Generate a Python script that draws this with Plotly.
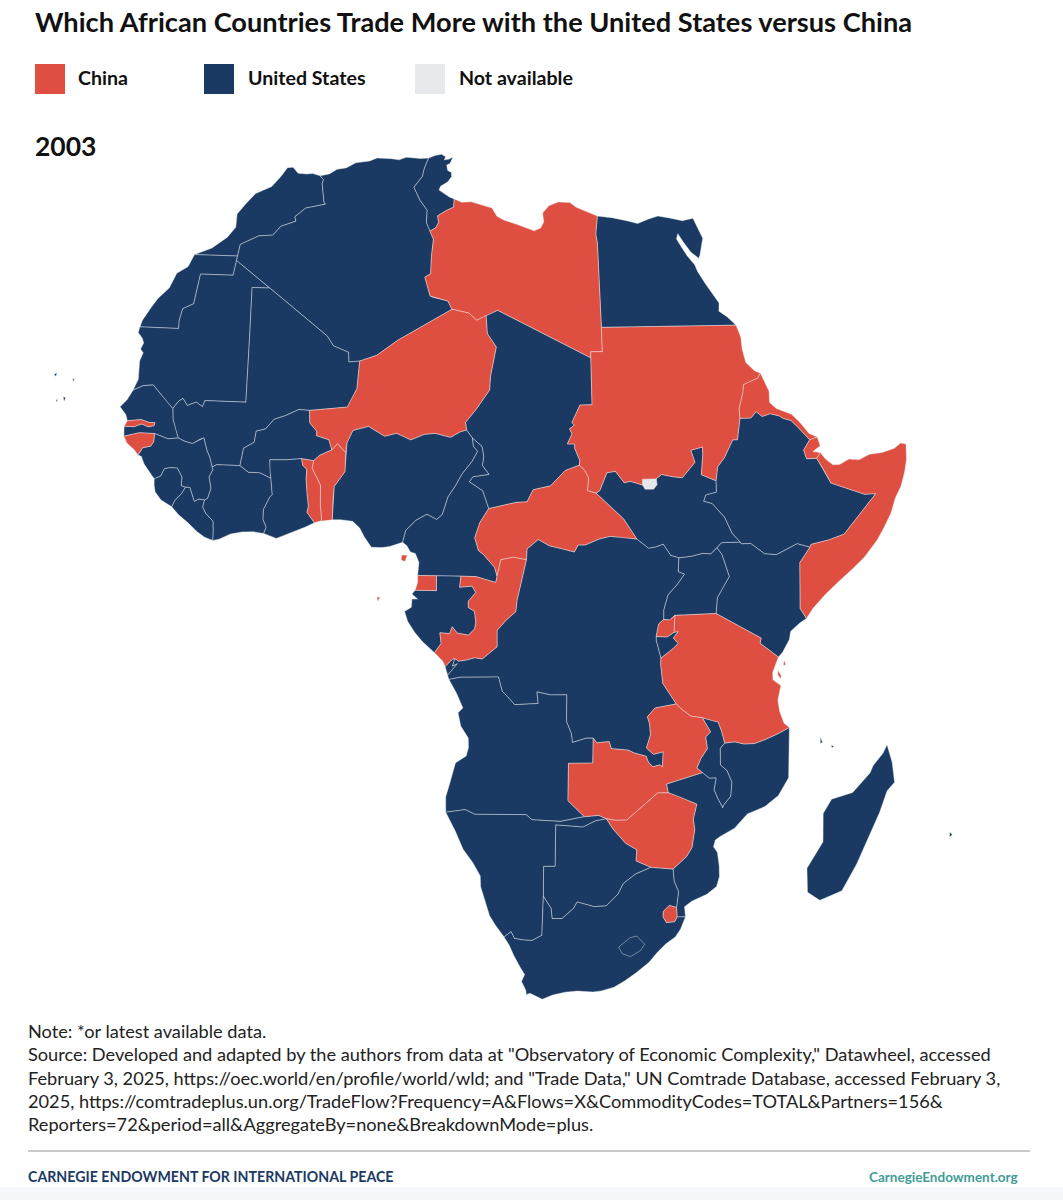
import numpy as np
import plotly.graph_objects as go

# No map files offline, so the outlines are kept here as lon/lat chains.
# Coast pieces and land borders are shared between neighbours.
c_mar = [(-13.15,27.67),(-12.5,27.9),(-11.5,28.3),(-10.2,29.3),(-9.6,30.2),(-9.85,31.4),(-9.2,32.4),(-8.5,33.3),(-7.0,34.0),(-6.3,35.0),(-5.9,35.8),(-5.3,35.85),(-4.6,35.3),(-3.7,35.25),(-3.0,35.3),(-2.2,35.1)]
c_dza = [(-2.2,35.1),(-1.3,35.3),(-0.6,35.75),(0.3,35.9),(1.2,36.4),(2.6,36.6),(3.3,36.9),(4.8,36.85),(5.6,36.75),(6.3,37.0),(7.2,36.95),(7.8,36.9),(8.6,36.95)]
c_tun = [(8.6,36.95),(9.2,37.2),(9.85,37.33),(10.3,37.1),(10.2,36.8),(10.6,36.85),(11.05,37.05),(10.8,36.45),(10.5,36.3),(10.65,35.8),(11.05,35.6),(11.1,35.2),(10.75,34.7),(10.1,34.3),(10.0,33.95),(10.5,33.65),(11.1,33.3),(11.55,33.15)]
c_lby = [(11.55,33.15),(12.3,32.85),(13.2,32.9),(14.2,32.65),(15.2,32.35),(15.7,31.6),(16.4,31.25),(17.5,30.9),(18.4,30.6),(19.2,30.3),(19.8,30.55),(20.1,31.1),(20.0,31.9),(20.6,32.55),(21.5,32.9),(22.6,32.85),(23.2,32.4),(24.0,32.05),(25.15,31.6)]
c_egy = [(25.15,31.6),(26.5,31.45),(27.9,31.15),(28.9,30.9),(30.0,31.3),(30.9,31.55),(32.0,31.35),(33.2,31.1),(34.25,31.3),(34.9,29.5),(34.4,28.0),(34.25,27.75),(33.6,28.3),(33.0,29.2),(32.6,29.95),(32.4,29.5),(32.7,28.9),(33.2,28.0),(33.8,27.2),(34.0,26.6),(34.6,25.5),(35.3,24.3),(35.6,23.9),(35.5,23.2),(36.2,22.7),(36.9,22.0)]
c_sdn = [(36.9,22.0),(37.2,21.0),(37.2,20.0),(37.4,18.9),(38.1,18.2),(38.6,18.0)]
c_eri = [(38.6,18.0),(39.2,16.5),(39.15,15.6),(39.7,15.1),(40.2,14.9),(41.0,14.6),(41.7,13.9),(42.4,13.0),(43.1,12.7)]
c_dji = [(43.1,12.7),(43.3,12.0),(42.6,11.55),(43.25,11.45)]
c_som = [(43.25,11.45),(43.7,10.9),(44.3,10.45),(44.9,10.45),(45.8,10.85),(46.7,10.75),(47.7,11.15),(48.9,11.25),(50.1,11.55),(50.75,11.95),(51.25,11.85),(51.15,10.6),(50.85,9.6),(50.4,8.5),(49.8,7.6),(49.3,6.4),(48.6,5.3),(47.9,4.3),(46.7,3.0),(45.6,2.1),(44.3,1.1),(43.2,0.2),(42.1,-0.9),(41.55,-1.67)]
c_ken = [(41.55,-1.67),(41.0,-2.0),(40.2,-2.65),(40.1,-3.3),(39.55,-4.3),(39.2,-4.68)]
c_tza = [(39.2,-4.68),(38.75,-5.9),(38.8,-6.5),(39.5,-7.0),(39.3,-8.2),(39.5,-9.1),(39.95,-10.1),(40.44,-10.47)]
c_moz = [(40.44,-10.47),(40.55,-12.6),(40.75,-14.7),(40.0,-16.2),(38.9,-17.1),(37.4,-17.7),(36.4,-18.9),(35.2,-19.6),(34.8,-19.9),(34.7,-20.5),(35.1,-21.0),(35.4,-22.2),(35.55,-23.2),(35.4,-24.1),(34.6,-24.8),(33.3,-25.4),(32.7,-25.9),(32.9,-26.85)]
c_zaf = [(32.9,-26.85),(32.6,-28.0),(32.2,-28.75),(31.4,-29.4),(30.7,-30.2),(30.0,-31.2),(28.9,-32.2),(27.9,-33.0),(26.9,-33.65),(25.7,-34.0),(24.9,-34.1),(23.4,-34.0),(22.2,-34.1),(21.0,-34.4),(20.0,-34.83),(19.3,-34.5),(18.8,-34.2),(18.45,-34.35),(18.4,-33.9),(18.0,-33.0),(18.3,-32.3),(17.9,-31.6),(17.3,-30.4),(16.9,-29.4),(16.45,-28.62)]
c_nam = [(16.45,-28.62),(15.7,-27.5),(15.2,-26.6),(14.9,-25.5),(14.5,-23.9),(14.5,-22.9),(13.9,-21.7),(13.1,-20.5),(12.5,-18.9),(11.75,-17.25)]
c_ago = [(11.75,-17.25),(11.8,-16.4),(11.8,-15.9),(12.1,-15.0),(12.4,-13.9),(12.7,-13.0),(13.6,-12.4),(13.8,-11.7),(13.8,-10.9),(13.2,-9.9),(13.0,-8.8),(13.4,-8.4),(12.9,-7.2),(12.3,-6.1)]
c_cod = [(12.3,-6.1),(12.2,-5.75)]
c_cab = [(12.2,-5.75),(12.0,-5.05)]
c_cog = [(12.0,-5.05),(11.8,-4.6),(11.15,-3.95)]
c_gab = [(11.15,-3.95),(10.2,-3.1),(9.6,-2.4),(9.0,-1.5),(8.75,-0.7),(9.3,-0.35),(9.35,0.3),(9.8,0.3),(9.35,0.7),(9.6,1.0)]
c_gnq = [(9.6,1.0),(9.8,1.6),(9.8,2.17)]
c_cmr = [(9.8,2.17),(9.9,3.2),(9.6,3.9),(9.2,4.0),(8.9,4.5),(8.55,4.75)]
c_nga = [(8.55,4.75),(7.5,4.4),(6.9,4.3),(6.0,4.3),(5.4,5.1),(5.0,5.8),(4.4,6.3),(3.4,6.4),(2.7,6.37)]
c_ben = [(2.7,6.37),(1.63,6.22)]
c_tgo = [(1.63,6.22),(1.2,6.1)]
c_gha = [(1.2,6.1),(0.5,5.75),(-0.5,5.35),(-1.1,5.1),(-2.0,4.75),(-3.1,5.1)]
c_civ = [(-3.1,5.1),(-4.0,5.2),(-5.0,5.15),(-6.0,4.95),(-7.0,4.5),(-7.55,4.37)]
c_lbr = [(-7.55,4.37),(-8.3,4.6),(-9.0,5.0),(-9.9,5.7),(-10.8,6.3),(-11.45,6.9)]
c_sle = [(-11.45,6.9),(-12.5,7.4),(-13.1,8.0),(-13.25,8.5),(-13.3,9.05)]
c_gin = [(-13.3,9.05),(-13.7,9.5),(-14.4,10.2),(-14.75,10.8),(-15.1,10.9)]
c_gnb = [(-15.1,10.9),(-15.5,11.3),(-16.3,11.8),(-16.7,12.35)]
c_sen_s = [(-16.7,12.35),(-16.8,13.15)]
c_gmb = [(-16.8,13.15),(-16.55,13.6)]
c_sen_n = [(-16.55,13.6),(-16.8,14.1),(-17.5,14.7),(-16.9,15.3),(-16.45,16.1)]
c_mrt = [(-16.45,16.1),(-16.1,17.0),(-16.3,18.5),(-16.1,19.2),(-16.45,19.5),(-16.25,20.0),(-16.5,20.4),(-17.05,20.85),(-17.0,21.33)]
c_esh = [(-17.0,21.33),(-16.9,21.9),(-16.3,23.0),(-15.8,23.8),(-14.9,24.7),(-14.5,26.0),(-13.5,26.6),(-13.15,27.67)]

b_mar_dza = [(-2.2,35.1),(-1.75,34.75),(-1.8,34.4),(-1.2,32.7),(-1.0,32.5),(-2.9,32.1),(-3.8,31.3),(-3.6,30.9),(-5.0,30.4),(-5.6,29.6),(-7.0,29.5),(-8.67,28.7),(-8.67,27.67)]
b_esh_mar = [(-13.15,27.67),(-8.67,27.67)]
b_esh_dza = [(-8.67,27.67),(-8.67,27.29)]
b_esh_mrt = [(-8.67,27.29),(-8.67,26.0),(-12.0,26.0),(-12.0,23.45),(-13.0,23.0),(-13.1,22.0),(-13.0,21.33),(-17.0,21.33)]
b_dza_mrt = [(-8.67,27.29),(-4.83,25.0)]
b_mrt_mli = [(-4.83,25.0),(-6.55,25.0),(-5.98,21.0),(-5.5,15.5),(-7.0,15.5),(-9.3,15.5),(-9.45,15.0),(-10.1,15.35),(-10.9,15.05),(-11.4,15.6),(-11.75,15.4),(-12.25,14.75)]
b_mrt_sen = [(-16.45,16.1),(-15.5,16.5),(-14.5,16.6),(-13.9,16.1),(-13.3,15.6),(-12.7,15.1),(-12.25,14.75)]
b_mli_sen = [(-12.25,14.75),(-12.1,13.9),(-11.7,13.0),(-11.4,12.4)]
b_gin_sen = [(-13.7,12.67),(-12.35,12.3),(-11.4,12.4)]
b_sen_gnb = [(-16.7,12.35),(-15.2,12.68),(-13.7,12.67)]
b_gnb_gin = [(-13.7,12.67),(-13.7,12.0),(-13.95,11.65),(-14.7,11.5),(-15.0,11.0),(-15.1,10.9)]
b_gmb = [(-16.8,13.15),(-15.8,13.15),(-15.1,13.4),(-14.4,13.2),(-13.85,13.3),(-13.8,13.55),(-14.4,13.55),(-15.2,13.75),(-16.55,13.6)]
b_gin_mli = [(-11.4,12.4),(-10.7,12.15),(-10.0,12.0),(-9.3,12.4),(-9.0,12.5),(-8.6,11.5),(-8.3,11.0),(-8.0,10.2)]
b_gin_sle = [(-13.3,9.05),(-12.7,9.3),(-12.4,9.9),(-11.9,10.0),(-11.2,10.0),(-10.7,9.3),(-10.7,8.6),(-10.3,8.5)]
b_sle_lbr = [(-11.45,6.9),(-11.2,7.4),(-10.6,8.0),(-10.3,8.5)]
b_gin_lbr = [(-10.3,8.5),(-9.9,8.5),(-9.4,7.4),(-9.0,7.6),(-8.47,7.55)]
b_gin_civ = [(-8.47,7.55),(-8.2,7.7),(-7.95,8.5),(-8.2,9.4),(-7.9,10.0),(-8.0,10.2)]
b_lbr_civ = [(-7.55,4.37),(-7.55,5.1),(-7.6,5.9),(-8.3,6.5),(-8.6,7.0),(-8.47,7.55)]
b_mli_civ = [(-8.0,10.2),(-7.6,10.4),(-6.9,10.4),(-6.2,10.4),(-5.5,10.4)]
b_civ_bfa = [(-5.5,10.4),(-4.7,9.9),(-3.7,9.9),(-2.7,9.5)]
b_civ_gha = [(-3.1,5.1),(-2.9,5.6),(-3.2,6.2),(-3.2,7.0),(-2.7,8.0),(-2.5,8.2),(-2.7,9.5)]
b_gha_bfa = [(-2.7,9.5),(-2.8,10.0),(-2.9,10.95),(-1.5,11.0),(-0.15,11.13)]
b_gha_tgo = [(-0.15,11.13),(0.0,10.6),(0.35,10.3),(0.35,9.5),(0.5,8.3),(0.65,7.4),(0.55,6.9),(1.2,6.1)]
b_tgo_bfa = [(-0.15,11.13),(0.9,11.0)]
b_tgo_ben = [(0.9,11.0),(0.8,10.4),(1.4,9.4),(1.6,9.05),(1.65,7.5),(1.8,6.3),(1.63,6.22)]
b_ben_bfa = [(0.9,11.0),(1.4,11.45),(2.4,11.9)]
b_ben_ner = [(2.4,11.9),(2.85,12.4),(3.6,11.7)]
b_ben_nga = [(3.6,11.7),(3.6,10.2),(2.75,9.0),(2.7,7.8),(2.7,6.37)]
b_ner_bfa = [(2.4,11.9),(2.1,12.7),(1.0,13.0),(1.0,13.35),(0.35,14.0),(0.24,15.0)]
b_mli_bfa = [(0.24,15.0),(-0.7,15.05),(-1.9,14.5),(-2.8,14.2),(-3.5,13.4),(-4.3,13.2),(-4.4,12.3),(-5.3,11.8),(-5.5,10.4)]
b_mli_ner = [(0.24,15.0),(3.5,15.35),(3.6,15.6),(4.2,16.85),(4.25,19.1)]
b_mli_dza = [(-4.83,25.0),(1.15,21.1),(1.8,20.3),(3.2,19.8),(3.3,19.0),(4.25,19.1)]
b_ner_dza = [(4.25,19.1),(5.7,19.6),(7.4,20.85),(12.0,23.5)]
b_tun_dza = [(8.6,36.95),(8.3,36.0),(8.2,35.2),(7.5,34.2),(8.25,33.0),(9.05,32.1),(9.1,31.0),(9.5,30.23)]
b_tun_lby = [(9.5,30.23),(10.0,30.5),(10.25,31.0),(10.1,31.6),(10.9,32.1),(11.55,32.4),(11.55,33.15)]
b_dza_lby = [(9.5,30.23),(9.9,29.5),(9.85,28.0),(9.9,26.5),(9.4,26.2),(10.0,24.6),(10.25,24.5),(11.6,24.2),(12.0,23.5)]
b_ner_lby = [(12.0,23.5),(13.5,23.2),(14.2,22.6),(15.0,23.0)]
b_lby_tcd = [(15.0,23.0),(16.0,23.45),(24.0,19.5)]
b_ner_tcd = [(15.0,23.0),(15.15,21.5),(15.95,20.4),(15.5,18.0),(15.45,16.9),(14.4,15.4),(13.5,14.3),(13.6,13.7)]
b_ner_nga = [(3.6,11.7),(3.65,12.5),(4.1,13.5),(5.4,13.85),(6.8,13.1),(7.8,13.35),(9.0,12.85),(10.1,13.3),(11.0,13.4),(12.3,13.1),(13.1,13.55),(13.6,13.7)]
b_nga_tcd = [(13.6,13.7),(14.1,13.05)]
b_tcd_cmr = [(14.1,13.05),(14.9,12.4),(15.05,11.6),(14.95,10.9),(15.5,10.2),(14.2,10.0),(13.9,9.6),(15.0,8.9),(15.5,7.5)]
b_nga_cmr = [(14.1,13.05),(14.2,12.4),(14.55,12.0),(14.1,11.2),(13.3,10.2),(12.8,9.3),(12.2,8.4),(11.75,7.0),(11.3,6.6),(10.5,7.0),(9.6,6.5),(8.8,5.7),(8.55,4.75)]
b_tcd_caf = [(15.5,7.5),(16.6,7.75),(17.7,8.0),(18.6,8.05),(19.1,9.0),(20.5,9.3),(21.7,10.5),(22.86,10.92)]
b_tcd_sdn = [(24.0,19.5),(24.0,15.7),(23.0,15.7),(22.3,14.3),(22.5,14.1),(22.1,13.8),(22.3,13.4),(21.9,12.6),(22.5,12.6),(22.5,12.25),(22.9,11.3),(22.86,10.92)]
b_lby_sdn = [(24.0,19.5),(24.0,20.0),(25.0,20.0),(25.0,22.0)]
b_lby_egy = [(25.0,22.0),(25.0,29.2),(24.9,30.0),(25.15,31.6)]
b_egy_sdn = [(25.0,22.0),(36.9,22.0)]
b_sdn_eri = [(38.6,18.0),(38.3,17.6),(37.5,17.3),(37.0,17.1),(36.9,16.5),(36.45,15.2),(36.45,14.4)]
b_eri_eth = [(36.45,14.4),(37.4,14.4),(37.9,14.9),(38.4,14.5),(39.1,14.7),(39.9,14.5),(40.2,14.3),(40.9,14.1),(41.6,13.4),(42.4,12.5)]
b_eri_dji = [(43.1,12.7),(42.4,12.5)]
b_dji_eth = [(42.4,12.5),(41.8,11.7),(42.0,11.0),(42.9,11.0)]
b_dji_som = [(42.9,11.0),(43.25,11.45)]
b_eth_som = [(42.9,11.0),(43.7,9.6),(44.0,9.0),(46.95,8.0),(48.0,8.0),(44.95,4.9),(43.6,4.5),(42.0,4.2),(41.9,3.98)]
b_ken_som = [(41.55,-1.67),(41.0,-0.85),(41.0,2.8),(41.9,3.98)]
b_ken_eth = [(41.9,3.98),(40.8,4.3),(39.9,3.9),(39.0,3.5),(38.0,3.6),(36.85,4.45),(36.05,4.45),(35.95,4.6)]
b_ken_ssd = [(35.95,4.6),(34.4,4.6),(34.0,4.2)]
b_eth_ssd = [(35.95,4.6),(35.3,5.3),(34.7,6.6),(33.7,7.7),(33.0,7.9),(33.2,8.4),(34.1,8.6),(34.1,9.5)]
b_eth_sdn = [(34.1,9.5),(34.3,10.6),(34.9,11.3),(35.7,12.7),(36.1,12.7),(36.45,14.4)]
b_sdn_ssd = [(34.1,9.5),(32.9,10.0),(33.1,11.6),(33.1,12.2),(32.1,11.95),(32.4,11.0),(31.3,9.8),(30.5,9.9),(29.6,10.1),(28.9,9.6),(28.0,9.3),(27.0,9.6),(26.5,9.5),(25.8,10.4),(25.1,10.3),(24.5,8.9),(24.2,8.7)]
b_sdn_caf = [(22.86,10.92),(23.3,10.5),(23.6,9.9),(23.5,8.9),(24.2,8.7)]
b_caf_ssd = [(24.2,8.7),(25.1,7.85),(26.4,6.65),(27.45,5.05)]
b_caf_cod = [(27.45,5.05),(26.4,5.2),(25.3,5.3),(24.4,5.1),(23.3,4.65),(22.7,4.65),(22.4,4.1),(21.65,4.3),(20.4,4.6),(19.5,5.1),(18.6,4.35),(18.55,3.5)]
b_caf_cog = [(18.55,3.5),(17.5,3.7),(16.5,3.5),(16.2,2.2)]
b_caf_cmr = [(15.5,7.5),(14.8,6.4),(14.4,5.2),(14.7,4.2),(15.1,3.9),(16.0,2.9),(16.2,2.2)]
b_cmr_cog = [(16.2,2.2),(16.1,1.7),(14.5,2.15),(13.3,2.17)]
b_cmr_gab = [(13.3,2.17),(11.33,2.17)]
b_cmr_gnq = [(11.33,2.17),(9.8,2.17)]
b_gnq_gab = [(9.6,1.0),(11.33,1.0),(11.33,2.17)]
b_gab_cog = [(13.3,2.17),(13.2,1.3),(14.2,1.4),(14.5,0.9),(13.9,0.2),(13.9,-0.3),(14.4,-0.6),(14.5,-1.5),(14.4,-2.0),(13.9,-2.5),(13.0,-2.35),(12.6,-1.85),(12.4,-2.4),(11.6,-2.35),(11.7,-3.2),(11.15,-3.95)]
b_cog_cod = [(18.55,3.5),(18.2,2.0),(17.8,0.3),(17.7,-0.6),(16.9,-1.3),(16.2,-2.1),(16.2,-3.4),(15.5,-4.0),(15.0,-4.4),(14.4,-4.3),(13.7,-4.5),(13.1,-4.6),(12.8,-4.4)]
b_cog_cab = [(12.0,-5.05),(12.6,-4.45),(12.8,-4.4)]
b_cod_cab = [(12.8,-4.4),(12.6,-5.0),(13.0,-4.8),(12.2,-5.75)]
b_cod_ago = [(12.3,-6.1),(13.2,-5.9),(16.3,-5.85),(16.6,-7.0),(16.9,-7.3),(17.6,-8.1),(19.5,-8.0),(19.4,-7.05),(20.5,-7.3),(21.8,-7.3),(21.8,-9.5),(22.2,-10.5),(22.3,-11.25),(23.4,-10.9),(24.0,-10.9)]
b_ago_zmb = [(24.0,-10.9),(24.0,-13.0),(22.0,-13.0),(22.0,-16.2),(23.4,-17.6)]
b_ago_nam = [(11.75,-17.25),(13.4,-17.0),(14.2,-17.4),(18.5,-17.4),(19.0,-17.85),(21.4,-18.0),(23.4,-17.6)]
b_nam_zmb = [(23.4,-17.6),(24.6,-17.5),(25.26,-17.8)]
b_nam_bwa = [(25.26,-17.8),(24.4,-17.95),(23.3,-18.5),(21.0,-18.3),(20.99,-22.0),(20.0,-22.0),(20.0,-24.75)]
b_nam_zaf = [(16.45,-28.62),(17.1,-28.1),(17.4,-28.75),(18.2,-28.9),(19.0,-28.95),(19.9,-28.45),(20.0,-24.75)]
b_bwa_zaf = [(20.0,-24.75),(20.7,-25.9),(20.8,-26.85),(21.7,-26.85),(22.7,-25.9),(23.0,-25.3),(24.5,-25.75),(25.6,-25.7),(26.6,-24.6),(27.0,-23.65),(28.0,-22.8),(29.35,-22.2)]
b_bwa_zwe = [(25.26,-17.8),(25.85,-18.7),(27.0,-20.0),(28.0,-20.6),(28.0,-21.6),(29.35,-22.2)]
b_zmb_zwe = [(25.26,-17.8),(26.0,-17.95),(27.0,-17.95),(28.5,-16.6),(29.5,-15.65),(30.4,-15.65)]
b_zwe_moz = [(30.4,-15.65),(31.3,-16.0),(32.9,-16.7),(32.7,-18.0),(32.9,-18.9),(32.8,-20.5),(32.4,-21.3),(31.3,-22.4)]
b_zwe_zaf = [(29.35,-22.2),(31.3,-22.4)]
b_zaf_moz = [(31.3,-22.4),(31.5,-23.5),(32.0,-24.5),(31.97,-25.95)]
b_swz_moz = [(31.97,-25.95),(32.13,-26.85)]
b_zaf_moz2 = [(32.13,-26.85),(32.9,-26.85)]
b_swz_zaf = [(31.97,-25.95),(31.3,-25.75),(30.8,-26.3),(30.85,-26.85),(31.2,-27.35),(31.95,-27.3),(32.13,-26.85)]
b_zmb_moz = [(30.4,-15.65),(30.2,-14.9),(33.2,-14.0)]
b_zmb_mwi = [(33.2,-14.0),(32.7,-13.6),(33.0,-12.8),(33.5,-12.0),(33.3,-11.0),(33.7,-10.6),(32.95,-9.4)]
b_zmb_tza = [(32.95,-9.4),(32.0,-9.25),(31.2,-8.65),(30.75,-8.2)]
b_zmb_cod = [(24.0,-10.9),(24.3,-11.3),(25.3,-11.2),(25.5,-11.8),(26.9,-11.95),(27.4,-12.2),(28.4,-12.5),(28.6,-13.0),(29.0,-13.4),(29.6,-13.25),(29.8,-13.45),(29.8,-12.15),(29.0,-12.35),(28.4,-11.8),(28.7,-10.7),(28.6,-9.8),(28.4,-9.2),(29.0,-8.5),(30.75,-8.2)]
b_cod_tza = [(30.75,-8.2),(29.6,-6.5),(29.4,-5.0),(29.4,-4.45)]
b_cod_bdi = [(29.4,-4.45),(29.0,-3.0),(29.0,-2.7)]
b_bdi_tza = [(29.4,-4.45),(30.4,-3.7),(30.8,-3.3),(30.4,-2.85),(30.8,-2.35),(30.45,-2.4)]
b_rwa_bdi = [(29.0,-2.7),(29.9,-2.75),(30.45,-2.4)]
b_rwa_tza = [(30.45,-2.4),(30.5,-1.65),(30.5,-1.05)]
b_rwa_uga = [(30.5,-1.05),(30.1,-1.4),(29.6,-1.35)]
b_rwa_cod = [(29.6,-1.35),(29.2,-1.7),(29.0,-2.7)]
b_cod_uga = [(29.6,-1.35),(29.6,-0.6),(29.95,0.6),(30.7,1.4),(31.3,2.2),(30.8,2.4),(30.85,3.5)]
b_uga_ssd = [(30.85,3.5),(31.9,3.6),(32.8,3.8),(33.5,3.75),(34.0,4.2)]
b_uga_ken = [(34.0,4.2),(34.4,3.7),(35.0,1.9),(34.5,1.1),(34.0,0.25),(33.9,-1.0)]
b_uga_tza = [(30.5,-1.05),(33.9,-1.0)]
b_ken_tza = [(33.9,-1.0),(37.7,-3.1),(37.6,-3.5),(39.2,-4.68)]
b_tza_moz = [(40.44,-10.47),(39.5,-10.95),(38.4,-11.4),(37.5,-11.7),(36.6,-11.7),(35.8,-11.5),(34.95,-11.57)]
b_tza_mwi = [(34.95,-11.57),(34.6,-10.5),(34.3,-9.8),(33.9,-9.7),(32.95,-9.4)]
b_mwi_moz = [(34.95,-11.57),(34.6,-12.0),(34.7,-13.4),(35.3,-13.9),(35.8,-14.9),(35.8,-16.1),(35.2,-16.9),(35.2,-17.1),(34.7,-16.3),(34.3,-15.5),(34.4,-14.5),(33.8,-14.5),(33.2,-14.0)]
b_ssd_cod = [(27.45,5.05),(28.4,4.3),(29.0,4.4),(29.6,4.6),(30.2,3.7),(30.85,3.5)]

lesotho = [(27.0,-29.65),(28.0,-28.75),(28.6,-28.6),(29.4,-29.4),(29.1,-30.0),(28.2,-30.6),(27.4,-30.3),(27.0,-29.65)]
abyei = [(28.0,9.75),(29.15,9.75),(29.2,9.3),(28.9,8.95),(28.2,8.95),(28.0,9.3)]
madagascar = [(49.5,-12.3),(50.2,-13.8),(50.7,-15.5),(50.1,-16.2),(49.7,-18.05),(48.4,-22.5),(47.5,-24.9),(45.5,-25.7),(44.1,-24.9),(43.6,-22.7),(44.7,-20.4),(44.3,-17.9),(44.9,-16.7),(46.8,-16.2),(48.2,-14.6),(48.4,-14.0),(49.2,-13.0)]
bioko = [(8.5,3.75),(8.95,3.75),(8.75,3.25),(8.45,3.35)]
sao_tome = [(6.5,0.4),(6.75,0.35),(6.55,0.05)]
zanzibar = [(39.2,-5.75),(39.5,-6.2),(39.45,-6.45),(39.2,-6.1)]
pemba = [(39.7,-4.95),(39.85,-5.3),(39.65,-5.4)]
grande_comore = [(43.25,-11.4),(43.5,-11.85),(43.3,-11.9)]
anjouan = [(44.3,-12.1),(44.55,-12.2),(44.4,-12.35)]
mauritius = [(57.4,-20.05),(57.75,-20.3),(57.5,-20.5)]
cape_verde_a = [(-25.3,17.05),(-25.0,17.2),(-25.0,16.9)]
cape_verde_b = [(-23.05,16.85),(-22.85,16.7),(-23.0,16.55)]
cape_verde_c = [(-23.75,15.3),(-23.45,15.2),(-23.55,14.9)]
cape_verde_d = [(-24.5,15.0),(-24.3,15.0),(-24.35,14.8)]


def r(chain):
    return chain[::-1]


def ring(*chains):
    pts = []
    for c in chains:
        pts += c
    return pts


outlines = {
    "Morocco": ring(c_mar, b_mar_dza, r(b_esh_mar)),
    "Western Sahara": ring(c_esh, b_esh_mar, b_esh_dza, b_esh_mrt),
    "Mauritania": ring(c_mrt, r(b_esh_mrt), b_dza_mrt, b_mrt_mli, r(b_mrt_sen)),
    "Algeria": ring(c_dza, b_tun_dza, b_dza_lby, r(b_ner_dza), r(b_mli_dza), r(b_dza_mrt), r(b_esh_dza), r(b_mar_dza)),
    "Tunisia": ring(c_tun, r(b_tun_lby), r(b_tun_dza)),
    "Libya": ring(c_lby, r(b_lby_egy), r(b_lby_sdn), r(b_lby_tcd), r(b_ner_lby), r(b_dza_lby), b_tun_lby),
    "Egypt": ring(c_egy, r(b_egy_sdn), b_lby_egy),
    "Sudan": ring(c_sdn, b_sdn_eri, r(b_eth_sdn), b_sdn_ssd, r(b_sdn_caf), r(b_tcd_sdn), b_lby_sdn, b_egy_sdn),
    "Eritrea": ring(c_eri, b_eri_dji, r(b_eri_eth), r(b_sdn_eri)),
    "Djibouti": ring(c_dji, r(b_dji_som), r(b_dji_eth), r(b_eri_dji)),
    "Somalia": ring(c_som, b_ken_som, r(b_eth_som), b_dji_som),
    "Ethiopia": ring(b_eri_eth, b_dji_eth, b_eth_som, b_ken_eth, b_eth_ssd, b_eth_sdn),
    "Kenya": ring(c_ken, r(b_ken_tza), r(b_uga_ken), r(b_ken_ssd), r(b_ken_eth), r(b_ken_som)),
    "Tanzania": ring(c_tza, b_tza_moz, b_tza_mwi, b_zmb_tza, b_cod_tza, b_bdi_tza, b_rwa_tza, b_uga_tza, b_ken_tza),
    "Uganda": ring(b_uga_tza, r(b_uga_ken), r(b_uga_ssd), r(b_cod_uga), r(b_rwa_uga)),
    "Rwanda": ring(b_rwa_uga, b_rwa_cod, b_rwa_bdi, b_rwa_tza),
    "Burundi": ring(b_rwa_bdi, r(b_bdi_tza), b_cod_bdi),
    "South Sudan": ring(r(b_sdn_ssd), r(b_eth_ssd), b_ken_ssd, r(b_uga_ssd), r(b_ssd_cod), r(b_caf_ssd)),
    "Central African Republic": ring(b_caf_ssd, b_caf_cod, b_caf_cog, r(b_caf_cmr), b_tcd_caf, b_sdn_caf),
    "Chad": ring(b_lby_tcd, b_tcd_sdn, r(b_tcd_caf), r(b_tcd_cmr), r(b_nga_tcd), r(b_ner_tcd)),
    "Niger": ring(b_ner_dza, b_ner_lby, b_ner_tcd, r(b_ner_nga), r(b_ben_ner), b_ner_bfa, b_mli_ner),
    "Mali": ring(b_mli_dza, r(b_mli_ner), b_mli_bfa, r(b_mli_civ), r(b_gin_mli), r(b_mli_sen), r(b_mrt_mli)),
    "Senegal": ring(c_sen_s, b_gmb, c_sen_n, b_mrt_sen, b_mli_sen, r(b_gin_sen), r(b_sen_gnb)),
    "Gambia": ring(b_gmb, r(c_gmb)),
    "Guinea-Bissau": ring(c_gnb, b_sen_gnb, b_gnb_gin),
    "Guinea": ring(c_gin, r(b_gnb_gin), b_gin_sen, b_gin_mli, r(b_gin_civ), r(b_gin_lbr), r(b_gin_sle)),
    "Sierra Leone": ring(c_sle, b_gin_sle, r(b_sle_lbr)),
    "Liberia": ring(c_lbr, b_sle_lbr, b_gin_lbr, r(b_lbr_civ)),
    "Côte d'Ivoire": ring(c_civ, b_lbr_civ, b_gin_civ, b_mli_civ, b_civ_bfa, r(b_civ_gha)),
    "Burkina Faso": ring(r(b_mli_bfa), r(b_ner_bfa), r(b_ben_bfa), r(b_tgo_bfa), r(b_gha_bfa), r(b_civ_bfa)),
    "Ghana": ring(c_gha, b_civ_gha, b_gha_bfa, b_gha_tgo),
    "Togo": ring(c_tgo, r(b_gha_tgo), b_tgo_bfa, b_tgo_ben),
    "Benin": ring(c_ben, r(b_tgo_ben), b_ben_bfa, b_ben_ner, b_ben_nga),
    "Nigeria": ring(c_nga, r(b_ben_nga), b_ner_nga, b_nga_tcd, b_nga_cmr),
    "Cameroon": ring(c_cmr, r(b_nga_cmr), b_tcd_cmr, b_caf_cmr, b_cmr_cog, b_cmr_gab, b_cmr_gnq),
    "Equatorial Guinea": ring(c_gnq, r(b_cmr_gnq), r(b_gnq_gab)),
    "Gabon": ring(c_gab, b_gnq_gab, r(b_cmr_gab), b_gab_cog),
    "Congo": ring(c_cog, r(b_gab_cog), r(b_cmr_cog), r(b_caf_cog), b_cog_cod, r(b_cog_cab)),
    "Cabinda": ring(b_cog_cab, b_cod_cab, c_cab),
    "DR Congo": ring(r(b_caf_cod), b_ssd_cod, r(b_cod_uga), b_rwa_cod, r(b_cod_bdi), r(b_cod_tza), r(b_zmb_cod), r(b_cod_ago), c_cod, r(b_cod_cab), r(b_cog_cod)),
    "Angola": ring(c_ago, b_cod_ago, b_ago_zmb, r(b_ago_nam)),
    "Zambia": ring(r(b_ago_zmb), b_zmb_cod, r(b_zmb_tza), r(b_zmb_mwi), r(b_zmb_moz), r(b_zmb_zwe), r(b_nam_zmb)),
    "Malawi": ring(r(b_tza_mwi), b_mwi_moz, b_zmb_mwi),
    "Mozambique": ring(c_moz, r(b_zaf_moz2), r(b_swz_moz), r(b_zaf_moz), r(b_zwe_moz), b_zmb_moz, r(b_mwi_moz), r(b_tza_moz)),
    "Zimbabwe": ring(b_zmb_zwe, b_zwe_moz, r(b_zwe_zaf), r(b_bwa_zwe)),
    "Botswana": ring(b_nam_bwa, b_bwa_zaf, r(b_bwa_zwe)),
    "Namibia": ring(c_nam, b_ago_nam, b_nam_zmb, b_nam_bwa, r(b_nam_zaf)),
    "South Africa": ring(c_zaf, b_nam_zaf, b_bwa_zaf, b_zwe_zaf, b_zaf_moz, b_swz_zaf, b_zaf_moz2),
    "Eswatini": ring(b_swz_zaf, r(b_swz_moz)),
    "Lesotho": lesotho,
    "Madagascar": madagascar,
    "Abyei": abyei,
    "Bioko": bioko,
    "São Tomé": sao_tome,
    "Zanzibar": zanzibar,
    "Pemba": pemba,
    "Grande Comore": grande_comore,
    "Anjouan": anjouan,
    "Mauritius": mauritius,
    "Santo Antão": cape_verde_a,
    "Sal": cape_verde_b,
    "Santiago": cape_verde_c,
    "Fogo": cape_verde_d,
}

# which partner each country traded more with in 2003
china = ["Libya", "Niger", "Sudan", "Eritrea", "Djibouti", "Somalia", "Central African Republic",
         "Congo", "Equatorial Guinea", "Bioko", "São Tomé", "Tanzania", "Zanzibar", "Pemba", "Rwanda",
         "Zambia", "Zimbabwe", "Eswatini", "Benin", "Togo", "Gambia", "Guinea-Bissau"]
not_available = ["Abyei"]
united_states = [n for n in outlines if n not in china and n not in not_available]

legend_labels = ["China", "United States", "Not available"]
source_lines = [
    "Note: *or latest available data.",
    'Source: Developed and adapted by the authors from data at "Observatory of Economic Complexity," Datawheel, accessed',
    'February 3, 2025, https://oec.world/en/profile/world/wld; and "Trade Data," UN Comtrade Database, accessed February 3,',
    "2025, https://comtradeplus.un.org/TradeFlow?Frequency=A&Flows=X&CommodityCodes=TOTAL&Partners=156&",
    "Reporters=72&period=all&AggregateBy=none&BreakdownMode=plus.",
]

RED = "#DE4F41"
NAVY = "#1B3A63"
GREY = "#E6E8EB"
W, H = 1063, 1200
RADIUS = 716
CENTER_LON, CENTER_LAT = 19, 3
X0, Y0 = 532, 558


def project(points):
    # orthographic, the reference looks close to this around (19E, 3N)
    lon, lat = np.array(points, dtype=float).T
    dlon = lon - CENTER_LON
    lam, phi, phi0 = np.radians(dlon), np.radians(lat), np.radians(CENTER_LAT)
    x = RADIUS * np.cos(phi) * np.sin(lam)
    y = RADIUS * (np.cos(phi0) * np.sin(phi) - np.sin(phi0) * np.cos(phi) * np.cos(lam))
    # its middle sits a few units lower than a pure orthographic map
    y -= 9 * np.exp(-((lat + 5) / 25) ** 2) * np.exp(-(dlon / 30) ** 2)
    return x, y


def px(x):
    return x / W


def py(y):
    return 1 - y / H


fig = go.Figure()
for group, colour in [(united_states, NAVY), (china, RED), (not_available, GREY)]:
    for name in group:
        pts = outlines[name]
        x, y = project(pts + pts[:1])
        fig.add_trace(go.Scatter(x=x, y=y, name=name, mode="lines", fill="toself", fillcolor=colour,
                                 line=dict(color="rgba(235,240,246,0.6)", width=0.7),
                                 hoverinfo="name", showlegend=False))

annotations = []


def label(text, x, y, size, color="#111111", bold=False, family="Lato", anchor="left"):
    annotations.append(dict(text=f"<b>{text}</b>" if bold else text, x=px(x), y=py(y), xref="paper", yref="paper",
                            xanchor=anchor, yanchor="middle", showarrow=False,
                            font=dict(family=family, size=size, color=color)))


label("Which African Countries Trade More with the United States versus China", 33, 22, 27.2, bold=True)
label("2003", 33, 146, 26.5, bold=True)
for text, x in zip(legend_labels, [76, 246, 457]):
    label(text, x, 77, 19.6, bold=True)
for line, y in zip(source_lines, [1031, 1054, 1078, 1101, 1124]):
    label(line, 26, y, 18.2, color="#222222")
label("CARNEGIE ENDOWMENT FOR INTERNATIONAL PEACE", 26, 1176, 14.2, color=NAVY, bold=True)
label("CarnegieEndowment.org", 1020, 1177, 13.5, color="#3F9C96", bold=True, anchor="right")

shapes = [dict(type="rect", xref="paper", yref="paper", x0=px(x0), x1=px(x0 + 30), y0=py(94), y1=py(64),
               fillcolor=c, line=dict(width=0))
          for x0, c in zip([35, 204, 415], [RED, NAVY, GREY])]
shapes.append(dict(type="line", xref="paper", yref="paper", x0=px(28), x1=px(1030), y0=py(1151), y1=py(1151),
                   line=dict(color="#C9CACC", width=2)))
shapes.append(dict(type="rect", xref="paper", yref="paper", x0=0, x1=1, y0=0, y1=py(1187),
                   fillcolor="#F5F7FB", line=dict(width=0)))

fig.update_layout(
    width=W, height=H,
    margin=dict(l=0, r=0, t=0, b=0),
    paper_bgcolor="white", plot_bgcolor="white",
    xaxis=dict(range=[-X0, W - X0], visible=False, fixedrange=True),
    yaxis=dict(range=[Y0 - H, Y0], visible=False, fixedrange=True),
    annotations=annotations, shapes=shapes,
)

fig.write_html("out.html", config=dict(displayModeBar=False),
               post_script="document.body.style.margin='0';")
